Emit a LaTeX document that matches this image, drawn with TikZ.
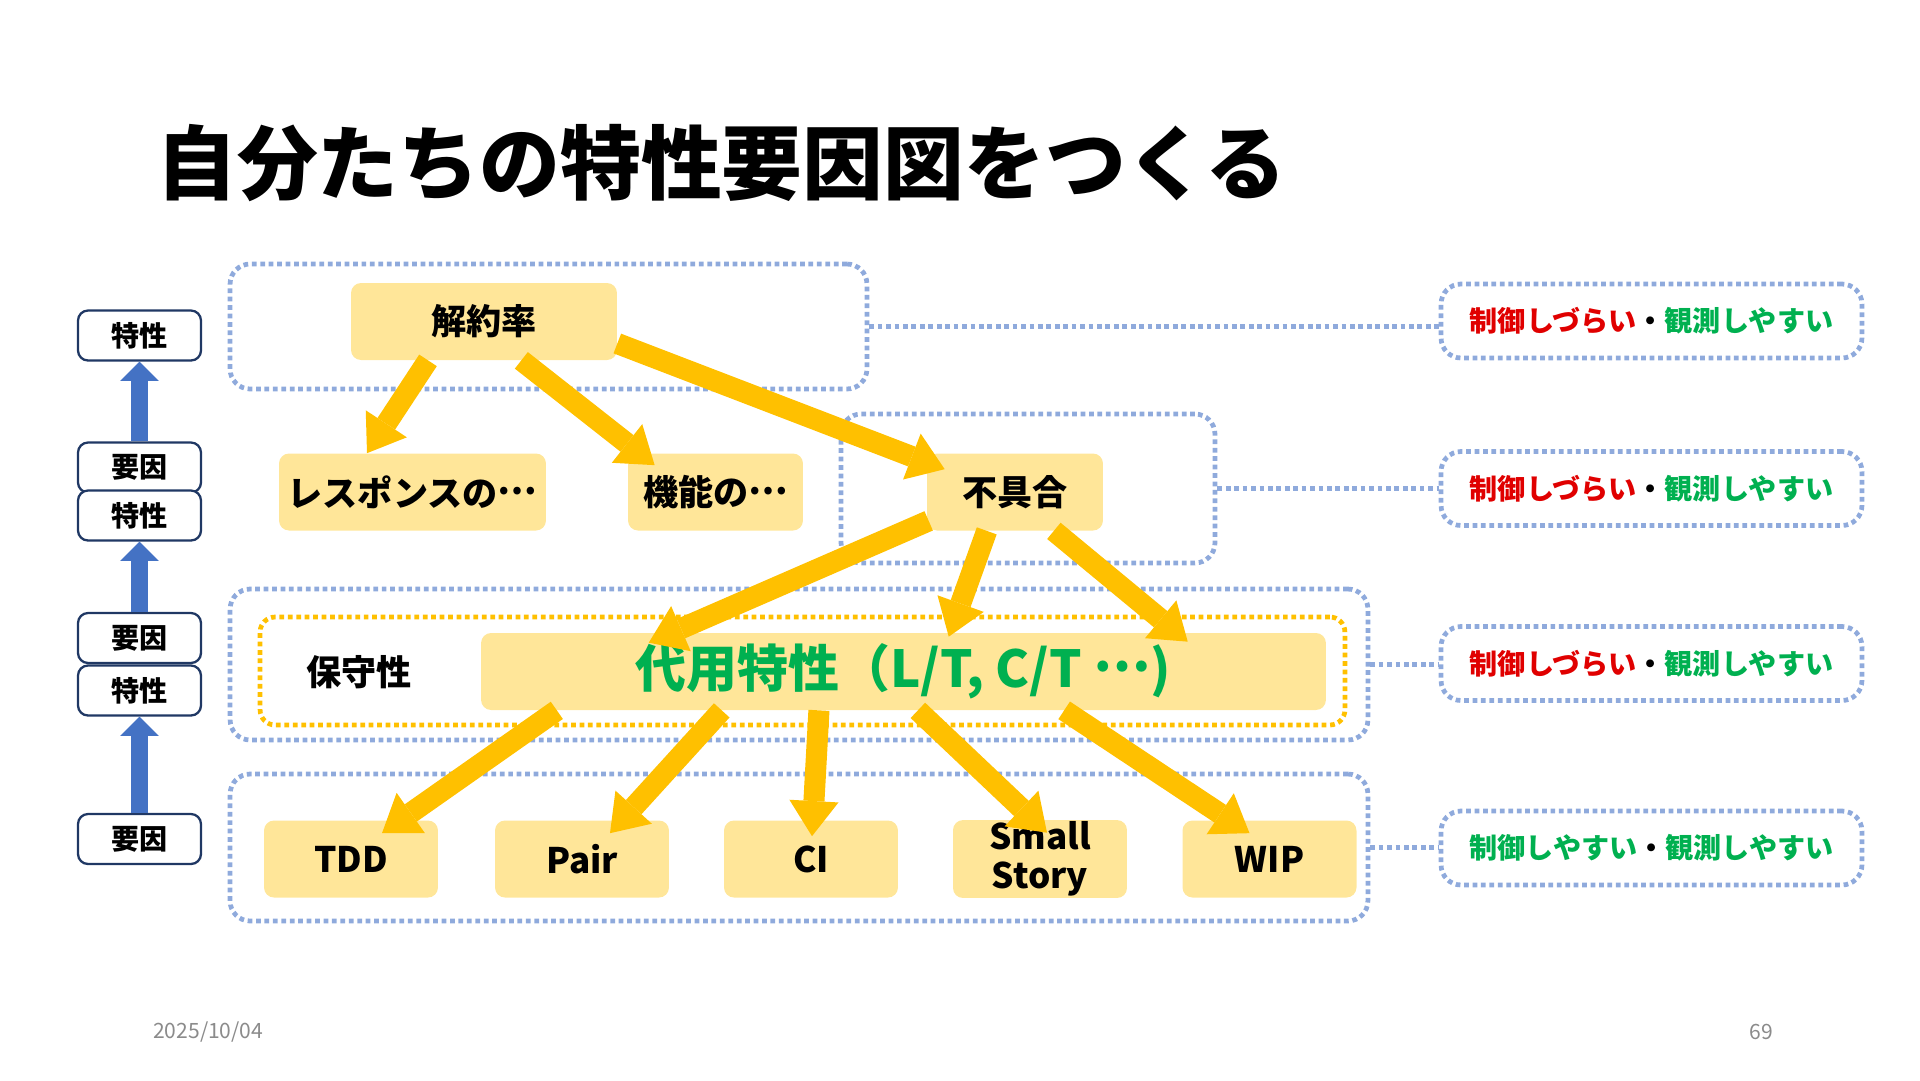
\documentclass[tikz,border=0pt]{standalone}
\usepackage{fontspec}
\setmainfont{Noto Sans CJK JP}
\usepackage{tikz}
\usetikzlibrary{arrows.meta, calc}
\definecolor{boxfill}{HTML}{FFE699}
\definecolor{flow}{HTML}{FFC000}
\definecolor{grpline}{HTML}{8FAADC}
\definecolor{navy}{HTML}{203864}
\definecolor{upblue}{HTML}{4472C4}
\definecolor{hard}{HTML}{E00000}
\definecolor{easy}{HTML}{00B050}
\definecolor{foot}{HTML}{8B8B8B}
\newcommand{\middots}{\raisebox{0.32em}{…}}

\begin{document}
\begin{tikzpicture}[x=0.02cm, y=-0.02cm,
  item/.style={rectangle, fill=boxfill, rounded corners=0.2cm, inner sep=1pt, minimum height=1.54cm, align=center, font=\fontsize{20}{22}\selectfont\bfseries},
  grp/.style={rectangle, draw=grpline, line width=2.7pt, dash pattern=on 2.7pt off 2.1pt, rounded corners=0.4cm},
  note/.style={grp, minimum width=8.42cm, minimum height=1.48cm, font=\fontsize{16}{18}\selectfont\bfseries},
  level/.style={rectangle, draw=navy, line width=1.3pt, fill=white, rounded corners=0.2cm, minimum width=2.46cm, minimum height=1.0cm, font=\fontsize{16}{18}\selectfont\bfseries},
  link/.style={draw=grpline, line width=2.7pt, dash pattern=on 2.7pt off 2.1pt},
  flowarrow/.style={-{Triangle[width=28pt, length=20pt, line width=0pt]}, line width=12pt, draw=flow},
  uparrow/.style={-{Triangle[width=22pt, length=11pt, line width=0pt]}, line width=10pt, draw=upblue}
]
  \useasboundingbox (0,0) rectangle (1920,1080);

  % title
  \node[anchor=west, font=\fontsize{46}{50}\selectfont\bfseries] (title) at (150,163) {自分たちの特性要因図をつくる};

  % dotted groups
  \node[grp, minimum width=12.74cm, minimum height=2.5cm] (g1) at (548.5,326.5) {};
  \node[grp, minimum width=7.48cm, minimum height=2.98cm] (g2) at (1028,488.5) {};
  \node[grp, minimum width=22.76cm, minimum height=3.02cm] (g3) at (799,664.5) {};
  \node[grp, draw=flow, rounded corners=0.3cm, minimum width=21.7cm, minimum height=2.16cm] (g3in) at (802.5,671) {};
  \node[grp, minimum width=22.76cm, minimum height=2.94cm] (g4) at (799,847.5) {};

  % notes on the right
  \node[note] (n1) at (1651.5,321) {\textcolor{hard}{制御しづらい}・\textcolor{easy}{観測しやすい}};
  \node[note] (n2) at (1651.5,488.5) {\textcolor{hard}{制御しづらい}・\textcolor{easy}{観測しやすい}};
  \node[note] (n3) at (1651.5,663.5) {\textcolor{hard}{制御しづらい}・\textcolor{easy}{観測しやすい}};
  \node[note] (n4) at (1651.5,848) {\textcolor{easy}{制御しやすい}・\textcolor{easy}{観測しやすい}};

  \draw[link] (g1.east) -- (g1.east -| n1.west);
  \draw[link] (g2.east) -- (g2.east -| n2.west);
  \draw[link] (g3.east) -- (g3.east -| n3.west);
  \draw[link] (g4.east) -- (g4.east -| n4.west);

  % boxes
  \node[item, minimum width=5.32cm] (kaiyaku) at (484,321.5) {解約率};
  \node[item, minimum width=5.34cm] (resp) at (412.5,492) {レスポンスの\middots};
  \node[item, minimum width=3.5cm] (kinou) at (715.5,492) {機能の\middots};
  \node[item, minimum width=3.52cm] (fuguai) at (1015,492) {不具合};
  \node[item, minimum width=16.9cm, text=easy, font=\fontsize{29}{32}\selectfont\bfseries] (daiyou) at (903.5,671.5) {代用特性（L/T, C/T \middots)};
  \node[font=\fontsize{20}{22}\selectfont\bfseries] (hoshu) at (359,672) {保守性};
  \foreach \x/\name/\txt in {351/tdd/TDD, 582/pair/Pair, 811/ci/CI, 1040/small/{Small\\Story}, 1269.5/wip/WIP}
    \node[item, minimum width=3.48cm] (\name) at (\x,859) {\txt};

  % arrows
  \draw[flowarrow] ($(kaiyaku.south west)!.29!(kaiyaku.south east)$) -- ($(resp.north west)!.33!(resp.north east)$);
  \draw[flowarrow] ($(kaiyaku.south west)!.64!(kaiyaku.south east)$) -- ($(kinou.north west)+(27,12)$);
  \draw[flowarrow] ($(kaiyaku.east)+(0,22)$) -- ($(fuguai.north west)+(18,16)$);
  \draw[flowarrow] ($(fuguai.south west)+(2,-10)$) -- ($(daiyou.north west)+(168,10)$);
  \draw[flowarrow] ($(fuguai.south west)!.34!(fuguai.south east)$) -- ($(daiyou.north west)+(468,4)$);
  \draw[flowarrow] ($(fuguai.south west)!.72!(fuguai.south east)$) -- ($(daiyou.north west)+(707,9)$);
  \foreach \f/\n/\dx/\dy in {.09/tdd/31/13, .285/pair/28/13, .40/ci/1/16, .517/small/7/13, .69/wip/-20/13}
    \draw[flowarrow] ($(daiyou.south west)!\f!(daiyou.south east)$) -- ($(\n.north)+(\dx,\dy)$);

  % left column
  \node[level] (c1) at (139.5,335.5) {特性};
  \node[level] (f1) at (139.5,467.5) {要因};
  \node[level] (c2) at (139.5,515.5) {特性};
  \node[level] (f2) at (139.5,638) {要因};
  \node[level] (c3) at (139.5,690.5) {特性};
  \node[level] (f3) at (139.5,839) {要因};
  \draw[uparrow] (f1.north) -- (c1.south);
  \draw[uparrow] (f2.north) -- (c2.south);
  \draw[uparrow] (f3.north) -- (c3.south);

  % footer
  \node[anchor=west, text=foot, font=\fontsize{12}{14}\selectfont] (date) at (147,1032) {2025/10/04};
  \node[text=foot, font=\fontsize{12}{14}\selectfont] (page) at (1761,1032) {69};
\end{tikzpicture}
\end{document}
